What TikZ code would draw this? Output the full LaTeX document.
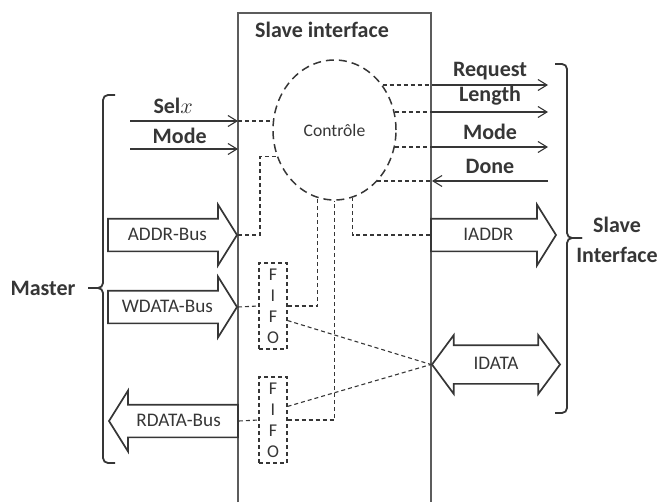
\documentclass[tikz,border=0pt]{standalone}
\usepackage{fontspec}
\setmainfont{Carlito}
\usetikzlibrary{arrows.meta,shapes.geometric,shapes.arrows}
\definecolor{ink}{HTML}{363636}
\definecolor{frm}{HTML}{5C5C5C}
\tikzset{
  sig/.style={-{Straight Barb[length=4.5pt,width=5.5pt]}, line width=0.55pt, ink},
  ctl/.style={ink, line width=0.55pt, dash pattern=on 2pt off 1.5pt},
  frame/.style={frm, line width=1pt},
  brk/.style={ink, line width=0.9pt, rounded corners=2.5pt},
  bus/.style={single arrow, draw=ink, line width=0.85pt, text=ink,
    font=\fontsize{9.6}{11}\selectfont, text height=7pt, text depth=2pt,
    inner xsep=2pt, inner ysep=3.25pt, minimum width=29pt,
    single arrow head extend=7pt, single arrow tip angle=116},
  dbus/.style={double arrow, draw=ink, line width=0.85pt, text=ink,
    font=\fontsize{9.6}{11}\selectfont, text height=7pt, text depth=2pt,
    inner xsep=2pt, inner ysep=4.75pt, minimum width=28.5pt,
    double arrow head extend=5pt, double arrow tip angle=107},
  ctrlbox/.style={ellipse, draw=ink, line width=0.75pt, dash pattern=on 4pt off 2.5pt,
    minimum width=61.5pt, minimum height=70pt, inner sep=0pt, text=ink,
    font=\fontsize{8.8}{10}\selectfont},
  fifo/.style={draw=ink, line width=0.55pt, dash pattern=on 2pt off 1.5pt,
    minimum width=14pt, minimum height=43pt, inner sep=0pt, align=center, text=ink,
    font=\fontsize{9}{10.5}\selectfont},
  lab/.style={font=\bfseries\fontsize{11}{15}\selectfont, text=ink},
}

\begin{document}
\begin{tikzpicture}[x=0.5pt,y=-0.5pt]
\useasboundingbox (0,0) rectangle (662,502);

% ===================== slave interface block ================================
\draw[frame] (238,502) |- (431,13) -- (431,502);
\node[lab] (title) at (322,30) {Slave interface};
\node[ctrlbox] (ctrl) at (334.5,130) {Contrôle};
\node[fifo] (fifo1) at (273,306) {F\\I\\F\\O};
\node[fifo] (fifo2) at (273,420) {F\\I\\F\\O};

% ===================== master side ==========================================
\node[lab] (mst) at (43,288) {Master};
\coordinate (mb-t) at (115,95);
\coordinate (mb-m) at (103,288);
\coordinate (mb-b) at (115,463);
\draw[brk] (mb-t) -| (mb-m) -- ++(-15,0);
\draw[brk] (mb-m) ++(-15,0) -- (mb-m) |- (mb-b);

\coordinate (selx-w) at (130,121);
\coordinate (selx-e) at (238,121);
\coordinate (mode-w) at (130,149);
\coordinate (mode-e) at (238,149);
\draw[sig] (selx-w) -- (selx-e) node[lab, pos=0.4, above=0pt] (selx-l) {Sel$x$};
\draw[sig] (mode-w) -- (mode-e) node[lab, pos=0.46, above=-1pt] (mode-l) {Mode};

\node[bus, anchor=tip, minimum height=64.5pt] (addr) at (238,235) {ADDR-Bus};
\node[bus, anchor=tip, minimum height=64.5pt] (wdata) at (238,307) {WDATA-Bus};
\node[bus, shape border rotate=180, anchor=tip, minimum height=64.5pt] (rdata) at (108,421) {RDATA-Bus};

% ===================== slave side ===========================================
\node[lab, align=center] (slv) at (617,240) {Slave\\Interface};
\coordinate (sb-t) at (555,64);
\coordinate (sb-m) at (567,238);
\coordinate (sb-b) at (555,413);
\draw[brk] (sb-t) -| (sb-m) -- ++(15,0);
\draw[brk] (sb-m) ++(15,0) -- (sb-m) |- (sb-b);

\coordinate (req-w) at (432,85);   \coordinate (req-e) at (548,85);
\coordinate (len-w) at (432,112);  \coordinate (len-e) at (548,112);
\coordinate (smod-w) at (432,147); \coordinate (smod-e) at (548,147);
\coordinate (done-w) at (432,181); \coordinate (done-e) at (548,181);
\draw[sig] (req-w) -- (req-e) node[lab, midway, above=-1pt] (req-l) {Request};
\draw[sig] (len-w) -- (len-e) node[lab, midway, above=0pt] (len-l) {Length};
\draw[sig] (smod-w) -- (smod-e) node[lab, midway, above=0pt] (smod-l) {Mode};
\draw[sig] (done-e) -- (done-w) node[lab, midway, above=0pt] (done-l) {Done};

\node[bus, anchor=tip, minimum height=62.5pt] (iaddr) at (557,235) {IADDR};
\node[dbus, minimum height=64pt] (idata) at (496,364.5) {IDATA};

% ===================== control links ========================================
\draw[ctl] (selx-e) -- (ctrl.171.6 |- selx-e);
\draw[ctl] (ctrl.43.7 |- req-w) -- (req-w);
\draw[ctl] (ctrl.16.9 |- len-w) -- (len-w);
\draw[ctl] (ctrl.-15.9 |- smod-w) -- (smod-w);
\draw[ctl] (ctrl.-50.5 |- done-w) -- (done-w);
\draw[ctl] (addr.tip) -- ++(22,0) |- (ctrl.205.5);
\draw[ctl] (iaddr.west) -| (ctrl.-75.4);

% ===================== data paths ===========================================
\draw[ctl] (wdata.tip) -- (fifo1.west);
\draw[ctl] (fifo1.east) -| (ctrl.-104.6);
\draw[ctl] (rdata.east) -- (fifo2.west);
\draw[ctl] (fifo2.east) -| (ctrl.south);
\draw[ctl] (fifo1.-45) -- (idata.west);
\draw[ctl] (fifo2.43) -- (idata.west);

\end{tikzpicture}
\end{document}
